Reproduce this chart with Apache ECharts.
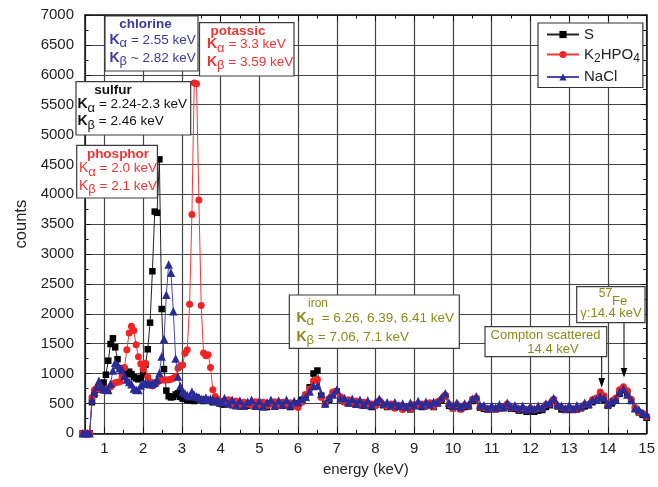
<!DOCTYPE html>
<html><head><meta charset="utf-8">
<script src="https://cdn.jsdelivr.net/npm/echarts@6/dist/echarts.min.js"></script>
<style>html,body{margin:0;padding:0;background:#fff}#c{width:658px;height:487px}</style>
</head><body><div id="c"></div>
<script>
// ---- data (energy in keV, counts) ----
const energy = [
0.44,0.5,0.56,0.62,0.68,0.74,0.8,0.86,0.92,0.98,
1.04,1.1,1.16,1.22,1.28,1.34,1.4,1.46,1.52,1.58,
1.64,1.7,1.76,1.82,1.88,1.94,2,2.06,2.12,2.18,
2.24,2.3,2.36,2.42,2.48,2.54,2.6,2.66,2.72,2.78,
2.84,2.9,2.96,3.02,3.08,3.14,3.2,3.26,3.32,3.38,
3.44,3.5,3.56,3.62,3.68,3.74,3.8,3.86,3.92,3.98,
4.04,
4.1,4.2,4.3,4.4,4.5,4.6,4.7,4.8,4.9,5,
5.1,5.2,5.3,5.4,5.5,5.6,5.7,5.8,5.9,6,
6.1,6.2,6.3,6.4,6.5,6.6,6.7,6.8,6.9,7,
7.1,7.2,7.3,7.4,7.5,7.6,7.7,7.8,7.9,8,
8.1,8.2,8.3,8.4,8.5,8.6,8.7,8.8,8.9,9,
9.1,9.2,9.3,9.4,9.5,9.6,9.7,9.8,9.9,10,
10.1,10.2,10.3,10.4,10.5,10.6,10.7,10.8,10.9,11,
11.1,11.2,11.3,11.4,11.5,11.6,11.7,11.8,11.9,12,
12.1,12.2,12.3,12.4,12.5,12.6,12.7,12.8,12.9,13,
13.1,13.2,13.3,13.4,13.5,13.6,13.7,13.8,13.9,14,
14.1,14.2,14.3,14.4,14.5,14.6,14.7,14.8,14.9,15
];
const countsS = [
0,0,0,0,520,650,730,760,750,850,
980,1215,1494,1590,1439,1240,1090,1010,980,990,
1031,990,940,920,904,930,990,1150,1406,1851,
2712,3710,3690,4584,2080,1074,715,620,600,610,
650,670,610,580,590,560,550,560,540,600,
570,560,540,560,550,540,520,540,530,500,
490,
480,520,470,510,450,500,460,500,450,510,
460,440,500,450,510,460,490,440,480,500,
560,640,770,1000,1050,630,490,560,670,700,
570,530,500,520,480,510,460,490,440,480,
520,470,440,470,430,450,420,440,400,460,
470,440,460,480,440,500,550,620,460,420,
450,420,440,450,540,570,430,410,400,410,
400,420,420,460,410,410,380,390,360,380,
360,380,390,440,470,550,450,400,390,400,
390,400,420,450,470,520,550,600,560,460,
500,550,660,720,680,540,410,350,310,260
];
const countsK2HPO4 = [
0,0,0,0,600,725,755,740,725,720,
725,750,780,820,847,855,863,950,1100,1400,
1680,1790,1720,1480,1280,1165,1070,1171,947,863,
790,845,850,880,890,892,892,895,904,920,
947,1088,1126,1143,1339,1398,2160,3663,5860,5850,
3903,2140,1342,1297,1314,1101,727,614,570,540,
530,
520,560,480,540,470,520,490,470,530,480,
520,460,500,530,470,520,470,510,460,430,
520,650,740,880,900,600,480,580,690,690,
610,520,560,500,540,470,520,460,490,460,
550,480,450,490,420,470,400,450,410,480,
460,490,450,510,450,530,570,640,480,420,
480,400,470,460,570,590,440,430,400,420,
400,440,430,490,420,440,400,420,390,420,
390,420,410,480,490,570,460,430,400,430,
400,420,420,480,480,560,590,690,630,470,
540,590,730,780,710,570,430,360,330,280
];
const countsNaCl = [
0,0,0,0,560,690,780,880,790,740,
730,725,830,1050,1181,1143,1088,1059,960,900,
860,820,750,730,725,800,830,850,837,820,
830,847,900,1007,1285,1577,2320,2824,2685,2041,
1250,950,790,700,670,640,620,698,640,614,
600,580,570,600,560,580,560,540,560,520,
530,
590,500,560,470,550,460,530,560,460,540,
450,520,560,460,550,480,560,470,540,520,
580,610,700,790,800,660,500,600,650,730,
590,590,520,580,500,560,480,550,470,530,
580,500,520,470,520,460,500,450,510,470,
540,470,530,480,530,520,600,670,510,460,
510,440,500,480,580,620,470,470,420,470,
430,480,440,510,450,470,420,460,400,450,
410,460,430,500,520,590,480,460,420,470,
420,470,450,510,490,560,560,620,590,490,
540,570,690,750,650,560,420,400,340,320
];
const seriesNames = ['S','K2HPO4','NaCl'];
const xTitle = 'energy (keV)';
const yTitle = 'counts';

// ---- styling ----
const FF = "'Liberation Sans', Arial, Helvetica, sans-serif";
const NAVY = '#3a3a9c', RED = '#ee3535', OLIVE = '#8a8a1c';
const pairs = arr => energy.map((e,i)=>[e,arr[i]]);

function rectEl(x,y,w,h){ return {type:'rect', z:50, shape:{x:x,y:y,width:w,height:h}, style:{fill:'#fff', stroke:'#3a3a3a', lineWidth:1.2}}; }
function txt(x,y,text,font,color,align){ return {type:'text', z:51, x:x, y:y, style:{text:text, font:font, fill:color, align:align||'left', verticalAlign:'middle'}}; }
function kline(x,y,sym,rest,color,boldK){
  return {type:'text', z:51, x:x, y:y, style:{text:'{k|K}{s|'+sym+'}{t|'+rest+'}', align:'left', verticalAlign:'middle', fill:color, font:'13.5px '+FF,
    rich:{k:{font:(boldK===false?'':'bold ')+'14px '+FF, fill:color, lineHeight:20},
          s:{font:'13px '+FF, fill:color, lineHeight:13, verticalAlign:'bottom'},
          t:{font:'13.5px '+FF, fill:color, lineHeight:20}}}};
}
const graphics = [
  rectEl(105,16,93,55),
  txt(145.5,24.5,'chlorine','bold 13.5px '+FF,NAVY,'center'),
  kline(109.5,40,'α',' = 2.55 keV',NAVY),
  kline(109.5,58,'β',' ~ 2.82 keV',NAVY),
  rectEl(199.5,22.7,94.5,53.3),
  txt(238,31,'potassic','bold 13.5px '+FF,RED,'center'),
  kline(207,44.5,'α',' = 3.3 keV',RED),
  kline(207,62,'β',' = 3.59 keV',RED),
  rectEl(76,81.7,114.7,53.3),
  txt(113,90.5,'sulfur','bold 13.5px '+FF,'#111','center'),
  kline(77.5,104.5,'α',' = 2.24-2.3 keV','#111'),
  kline(77.5,121.5,'β',' = 2.46 keV','#111'),
  rectEl(76.7,145.3,80.7,52.7),
  txt(118,154.5,'phosphor','bold 13.5px '+FF,RED,'center'),
  kline(79,168.5,'α',' = 2.0 keV',RED,false),
  kline(79,186,'β',' = 2.1 keV',RED,false),
  rectEl(289.3,295,170,53.3),
  txt(308,304,'iron','12px '+FF,OLIVE,'left'),
  kline(296.5,318,'α','  = 6.26, 6.39, 6.41 keV',OLIVE),
  kline(296.5,337,'β',' = 7.06, 7.1 keV',OLIVE),
  rectEl(485,326.7,121.7,30),
  txt(545.5,335.5,'Compton scattered','13px '+FF,OLIVE,'center'),
  txt(553,349.5,'14.4 keV','13px '+FF,OLIVE,'center'),
  rectEl(576.7,286.7,68.3,36),
  {type:'text', z:51, x:613, y:298, style:{text:'{sup|57}{fe|Fe}', align:'center', verticalAlign:'middle', fill:OLIVE, font:'13px '+FF,
     rich:{sup:{font:'12px '+FF, fill:OLIVE, lineHeight:12, verticalAlign:'top'}, fe:{font:'13px '+FF, fill:OLIVE, lineHeight:20, verticalAlign:'bottom'}}}},
  txt(611,313.5,'γ:14.4 keV','13px '+FF,OLIVE,'center'),
  {type:'line', z:51, shape:{x1:601.7,y1:356.7,x2:601.7,y2:380}, style:{stroke:'#000', lineWidth:1}},
  {type:'polygon', z:51, shape:{points:[[598.4,378],[605,378],[601.7,387.5]]}, style:{fill:'#000'}},
  {type:'line', z:51, shape:{x1:624,y1:322.7,x2:624,y2:370}, style:{stroke:'#000', lineWidth:1}},
  {type:'polygon', z:51, shape:{points:[[620.7,368],[627.3,368],[624,377.5]]}, style:{fill:'#000'}}
];

const axisCommon = {
  axisLine:{onZero:false, lineStyle:{color:'#111', width:1.5}},
  axisTick:{inside:true, length:6, lineStyle:{color:'#111', width:1}},
  minorTick:{show:true, splitNumber:2, length:3.5, lineStyle:{color:'#111', width:1}}
};

const chart = echarts.init(document.getElementById('c'), null, {renderer:'canvas', width:658, height:487});
chart.setOption({
  animation:false,
  backgroundColor:'#fff',
  textStyle:{fontFamily:FF},
  grid:{left:85, top:15, width:561.7, height:418.3},
  legend:{
    data:seriesNames, orient:'vertical', left:538, top:23, itemGap:5, itemWidth:32, itemHeight:9,
    padding:[4,3,3,8], borderColor:'#333', borderWidth:1.2, backgroundColor:'#fff',
    textStyle:{fontSize:15, color:'#222', fontFamily:FF,
      rich:{n:{fontSize:15, lineHeight:20, color:'#222'}, b:{fontSize:12, lineHeight:12, color:'#222', verticalAlign:'bottom'}}},
    formatter: name => name==='K2HPO4' ? '{n|K}{b|2}{n|HPO}{b|4}' : '{n|'+name+'}'
  },
  xAxis:[
    Object.assign({type:'value', min:0.5, max:15, splitNumber:14, position:'bottom',
      axisLabel:{color:'#222', fontSize:15, margin:8, showMinLabel:false, fontFamily:FF},
      splitLine:{show:true, lineStyle:{color:'#444', width:1.2}},
      name:xTitle, nameLocation:'middle', nameGap:29, nameTextStyle:{fontSize:15, color:'#222', fontFamily:FF}}, axisCommon),
    Object.assign({type:'value', min:0.5, max:15, splitNumber:14, position:'top',
      axisLabel:{show:false}, splitLine:{show:false}}, axisCommon)
  ],
  yAxis:[
    Object.assign({type:'value', min:0, max:7000, interval:500, position:'left',
      axisLabel:{color:'#222', fontSize:15, margin:11, fontFamily:FF, formatter: v => String(v)},
      splitLine:{show:true, lineStyle:{color:'#444', width:1.2}},
      name:yTitle, nameLocation:'middle', nameGap:50, nameTextStyle:{fontSize:16.5, color:'#222', fontFamily:FF}}, axisCommon),
    Object.assign({type:'value', min:0, max:7000, interval:500, position:'right',
      axisLabel:{show:false}, splitLine:{show:false}}, axisCommon)
  ],
  graphic:graphics,
  series:[
    {name:'S', type:'line', data:pairs(countsS), symbol:'rect', symbolSize:6.5, clip:false,
     itemStyle:{color:'#000'}, lineStyle:{color:'#222', width:1}, z:3, emphasis:{disabled:true}},
    {name:'K2HPO4', type:'line', data:pairs(countsK2HPO4), symbol:'circle', symbolSize:7, clip:false,
     itemStyle:{color:'#f02424'}, lineStyle:{color:'#f03a3a', width:1}, z:4, emphasis:{disabled:true}},
    {name:'NaCl', type:'line', data:pairs(countsNaCl), symbol:'triangle', symbolSize:8.5, clip:false,
     itemStyle:{color:'#2b2b98'}, lineStyle:{color:'#4a4ab4', width:1}, z:5, emphasis:{disabled:true}}
  ]
});
</script></body></html>
